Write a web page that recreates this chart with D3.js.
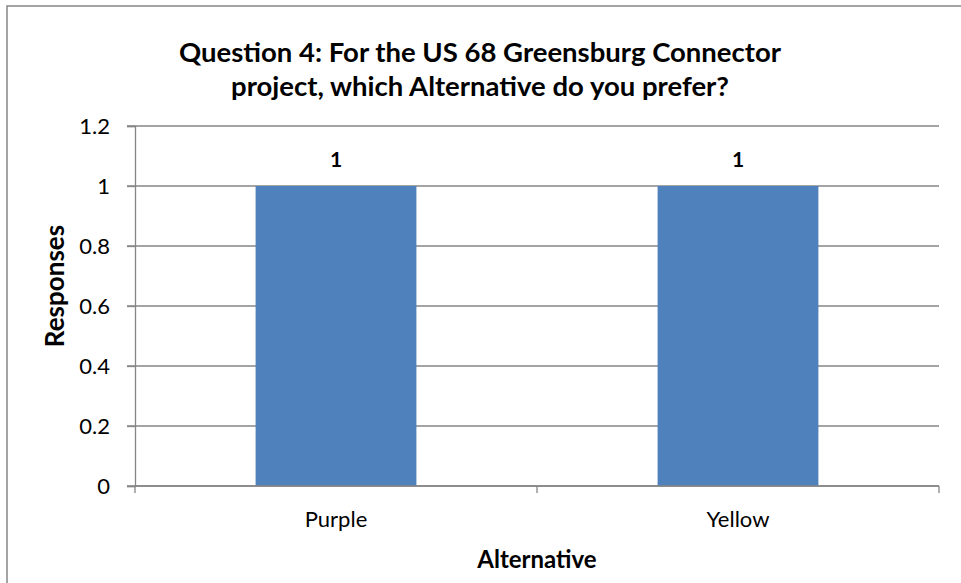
<!DOCTYPE html>
<html lang="en">
<head>
<meta charset="UTF-8">
<title>Question 4</title>
<script src="https://d3js.org/d3.v7.min.js"></script>
<style>
    body { margin: 0; background: #fff; }
    svg { font-family: Lato, "Open Sans", sans-serif; }
    .grid line { stroke: #868686; stroke-width: 1.3; }
</style>
</head>
<body>
<script>
// data
const categories = ['Purple', 'Yellow']
const responses = [1, 1]
const yTicks = [0, 0.2, 0.4, 0.6, 0.8, 1, 1.2]
const titleLines = ['Question 4: For the US 68 Greensburg Connector', 'project, which Alternative do you prefer?']

const W = 961, H = 583
const plotLeft = 135, plotRight = 939, plotTop = 126, plotBottom = 486

const svg = d3.select('body').append('svg')
    .attr('width', W)
    .attr('height', H)

// chart border
svg.append('rect')
    .attr('x', 7).attr('y', 6)
    .attr('width', W + 20).attr('height', H + 20)
    .attr('fill', 'none')
    .attr('stroke', '#868686')
    .attr('stroke-width', 1.5)

let x = d3.scaleBand()
    .domain(categories)
    .range([plotLeft, plotRight])
    .paddingInner(0.6)
    .paddingOuter(0.3)

let y = d3.scaleLinear()
    .domain([0, 1.2])
    .range([plotBottom, plotTop])

// gridlines
svg.append('g')
    .attr('class', 'grid')
    .selectAll('line')
    .data(yTicks)
    .enter()
    .append('line')
    .attr('x1', plotLeft - 8)
    .attr('x2', plotRight)
    .attr('y1', d => y(d))
    .attr('y2', d => y(d))

// y axis
let yAxis = svg.append('g')
    .attr('transform', `translate(${plotLeft},0)`)
    .call(d3.axisLeft(y).tickValues(yTicks).tickSize(8).tickPadding(17).tickFormat(d => String(+d.toFixed(1))))
yAxis.attr('font-family', null).attr('font-size', null)
yAxis.select('.domain').attr('stroke', '#868686').attr('stroke-width', 1.3)
yAxis.selectAll('.tick line').attr('stroke', '#868686').attr('stroke-width', 1.3)
yAxis.selectAll('.tick text')
    .attr('dy', '0.36em')
    .attr('font-size', 22)
    .attr('fill', '#000')

// bars
svg.selectAll('.bar')
    .data(categories)
    .enter()
    .append('rect')
    .attr('class', 'bar')
    .attr('x', d => x(d))
    .attr('y', (d, i) => y(responses[i]))
    .attr('width', x.bandwidth())
    .attr('height', (d, i) => y(0) - y(responses[i]))
    .attr('fill', '#4f81bd')

// x axis
let xAxis = svg.append('g')
    .attr('transform', `translate(0,${plotBottom})`)
    .call(d3.axisBottom(x).tickSize(0))
xAxis.attr('font-family', null).attr('font-size', null)
xAxis.select('.domain').remove()
xAxis.selectAll('.tick text')
    .attr('y', 41)
    .attr('dy', 0)
    .attr('font-size', 22)
    .attr('fill', '#000')
let bounds = d3.range(categories.length + 1).map(i => plotLeft + i * x.step())
svg.append('line')
    .attr('x1', plotLeft).attr('x2', plotRight)
    .attr('y1', plotBottom).attr('y2', plotBottom)
    .attr('stroke', '#868686').attr('stroke-width', 1.5)
svg.selectAll('.xtick')
    .data(bounds)
    .enter()
    .append('line')
    .attr('x1', d => d).attr('x2', d => d)
    .attr('y1', plotBottom).attr('y2', plotBottom + 7)
    .attr('stroke', '#868686').attr('stroke-width', 1.3)

// data labels
svg.selectAll('.label')
    .data(categories)
    .enter()
    .append('text')
    .attr('x', d => x(d) + x.bandwidth() / 2)
    .attr('y', (d, i) => y(responses[i]) - 19)
    .attr('text-anchor', 'middle')
    .attr('font-size', 21)
    .attr('font-weight', 'bold')
    .text((d, i) => responses[i])

// title
svg.selectAll('.title')
    .data(titleLines)
    .enter()
    .append('text')
    .attr('class', 'title')
    .attr('x', 480)
    .attr('y', (d, i) => 62 + i * 34)
    .attr('text-anchor', 'middle')
    .attr('font-size', 27.5)
    .attr('font-weight', 'bold')
    .text(d => d)

// axis titles
svg.append('text')
    .attr('transform', 'translate(64,286) rotate(-90)')
    .attr('text-anchor', 'middle')
    .attr('font-size', 26)
    .attr('font-weight', 'bold')
    .text('Responses')

svg.append('text')
    .attr('x', 537)
    .attr('y', 568)
    .attr('text-anchor', 'middle')
    .attr('font-size', 24)
    .attr('font-weight', 'bold')
    .text('Alternative')
</script>
</body>
</html>
